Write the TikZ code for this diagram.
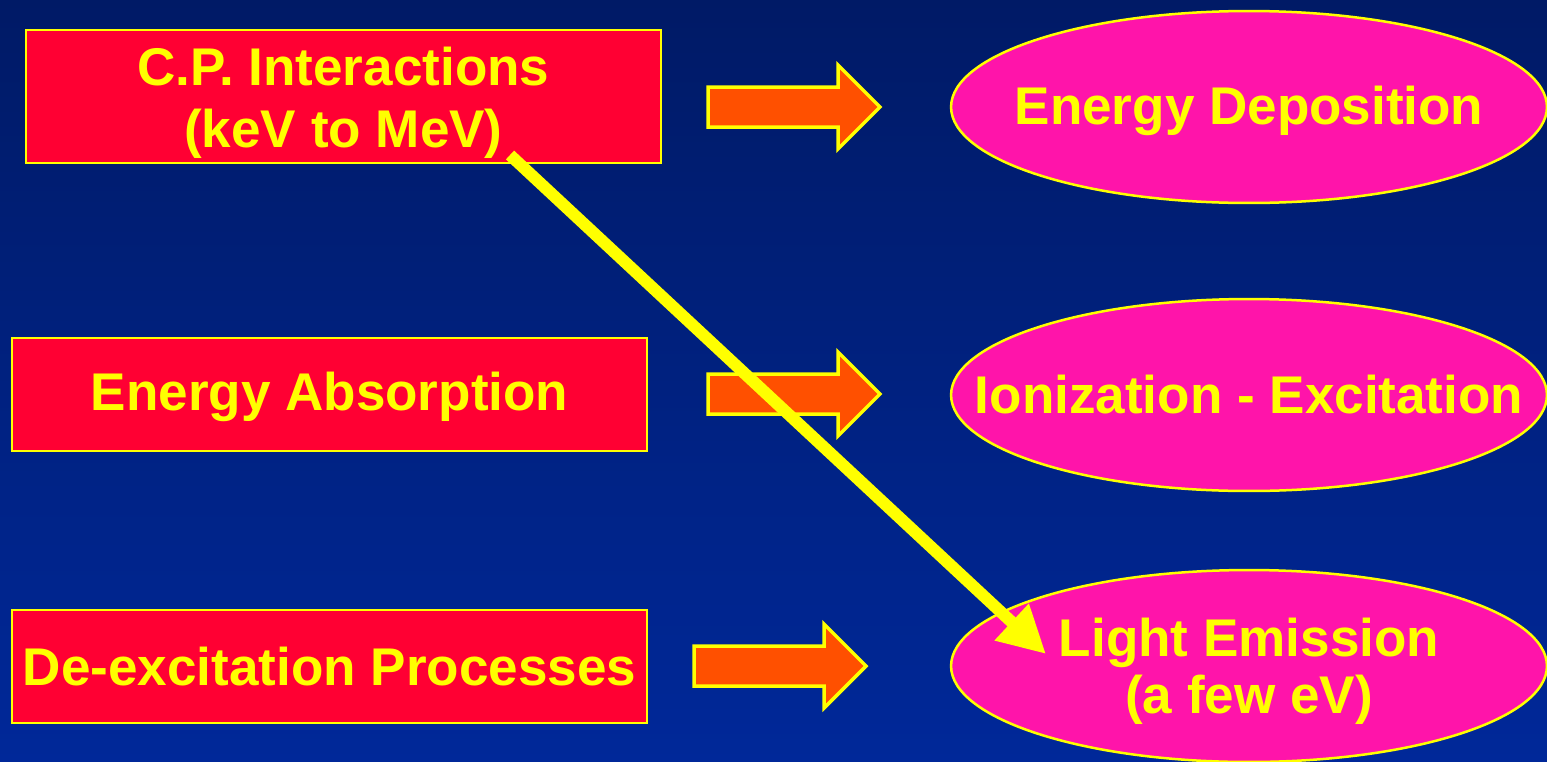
\documentclass[tikz,border=0pt]{standalone}
\usepackage{fontspec}
\setmainfont{Liberation Sans}
\usetikzlibrary{arrows.meta,shapes.geometric}
\definecolor{bgtop}{RGB}{0,26,102}
\definecolor{bgbot}{RGB}{0,40,153}
\definecolor{boxred}{RGB}{255,0,51}
\definecolor{arrorange}{RGB}{255,80,0}
\definecolor{ellmag}{RGB}{255,20,170}
\definecolor{yel}{RGB}{255,255,0}
\tikzset{
  lbl/.style={text=yel,font=\fontsize{30.2}{34}\selectfont\bfseries,align=center},
  redbox/.style={lbl,draw=yel,fill=boxred,line width=0.05cm,inner sep=0pt,minimum width=12.7cm},
  magell/.style={lbl,ellipse,draw=yel,fill=ellmag,line width=0.05cm,inner sep=0pt,minimum width=11.92cm,minimum height=3.84cm},
  blockarrow/.style={draw=yel,fill=arrorange,line width=0.07cm,line join=miter},
  yline/.style={draw=yel,line width=0.24cm,-{Triangle[length=0.94cm,width=0.94cm]}}
}
\begin{document}
\begin{tikzpicture}[x=0.02cm,y=-0.02cm]
\shade[top color=bgtop,bottom color=bgbot] (0,0) rectangle (1547,761);
\useasboundingbox (0,0) rectangle (1547,761);
% boxes
\node[redbox,minimum height=2.66cm] (cp) at (343.5,96.5) {\rule{0pt}{29pt}C.P. Interactions\\[1pt](keV to MeV)};
\node[redbox,minimum height=2.26cm] (ea) at (329.5,394.5) {\rule{0pt}{25pt}Energy Absorption};
\node[redbox,minimum height=2.26cm] (de) at (329.5,666.5) {De-excitation Processes};
% ellipses
\node[magell] (ed) at (1249,107) {\makebox[0pt]{\rule{0pt}{26pt}Energy Deposition}};
\node[magell] (ie) at (1249,395) {\makebox[0pt]{Ionization - Excitation}};
\node[magell] (le) at (1249,666) {\\[-6pt]Light Emission\\[-2pt](a few eV)};
% block arrows
\draw[blockarrow] (708,87) -- (838,87) -- (838,65) -- (880,107) -- (838,149) -- (838,127) -- (708,127) -- cycle;
\draw[blockarrow] (708,374) -- (838,374) -- (838,352) -- (880,394) -- (838,436) -- (838,414) -- (708,414) -- cycle;
\draw[blockarrow] (694,646) -- (824,646) -- (824,624) -- (866,666) -- (824,708) -- (824,686) -- (694,686) -- cycle;
% yellow connector
\coordinate (ys) at (510,155);
\coordinate (ye) at (1046,654);
\draw[yline] (ys) -- (ye);
\end{tikzpicture}
\end{document}
